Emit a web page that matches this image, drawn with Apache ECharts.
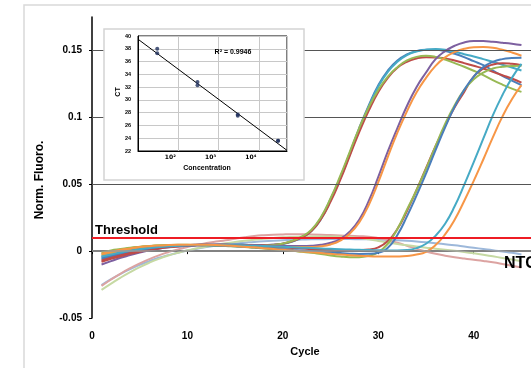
<!DOCTYPE html>
<html>
<head>
<meta charset="utf-8">
<script src="https://cdn.jsdelivr.net/npm/echarts@6/dist/echarts.min.js"></script>
<style>
  html, body { margin: 0; padding: 0; background: #fff; }
  #main { width: 531px; height: 368px; }
</style>
</head>
<body>
<div id="main"></div>
<script>
// cycles
var cycles = [1,2,3,4,5,6,7,8,9,10,11,12,13,14,15,16,17,18,19,20,21,22,23,24,25,26,27,28,29,30,31,32,33,34,35,36,37,38,39,40,41,42,43,44,45];

// amplification curves (Norm. Fluoro.)
var aBlue = [-0.006,-0.004,-0.002,-0.0005,0.001,0.002,0.003,0.0035,0.004,0.0045,0.0048,0.005,0.005,0.005,0.005,0.0048,0.0045,0.0045,0.0048,0.0055,0.0075,0.0105,0.0155,0.025,0.039,0.055,0.073,0.092,0.109,0.124,0.135,0.1425,0.147,0.1495,0.1505,0.1505,0.1495,0.1475,0.145,0.142,0.139,0.135,0.131,0.1275,0.124];
var aCyan = [-0.004,-0.0025,-0.001,0.0005,0.0015,0.0025,0.003,0.0035,0.004,0.0042,0.0045,0.0046,0.0046,0.0045,0.0044,0.0043,0.0042,0.0043,0.0046,0.0053,0.0072,0.0102,0.015,0.024,0.038,0.054,0.072,0.091,0.108,0.123,0.134,0.1415,0.1465,0.1492,0.1505,0.151,0.1505,0.149,0.1472,0.1455,0.1435,0.1415,0.1393,0.1372,0.135];
var aRed = [-0.007,-0.005,-0.003,-0.001,0.0005,0.0018,0.0028,0.0035,0.004,0.0044,0.0047,0.0048,0.0048,0.0047,0.0046,0.0045,0.0044,0.0045,0.0048,0.0056,0.0074,0.0103,0.015,0.024,0.037,0.053,0.071,0.089,0.105,0.119,0.1295,0.137,0.1415,0.144,0.145,0.1448,0.144,0.1425,0.1405,0.1385,0.1365,0.134,0.1315,0.129,0.126];
var aGreen = [-0.001,0.0005,0.0015,0.0025,0.0032,0.0038,0.0042,0.0045,0.0046,0.0046,0.0045,0.0044,0.0042,0.004,0.0038,0.0037,0.0037,0.004,0.0046,0.0057,0.0077,0.011,0.016,0.0255,0.0395,0.056,0.074,0.092,0.1075,0.1205,0.1305,0.1375,0.1425,0.1452,0.146,0.1452,0.1432,0.1405,0.1378,0.1348,0.1315,0.1278,0.1245,0.1215,0.119];
var bPurple = [-0.010,-0.0075,-0.005,-0.003,-0.001,0.0005,0.0018,0.0028,0.0035,0.004,0.0044,0.0046,0.0047,0.0047,0.0046,0.0045,0.0043,0.0041,0.004,0.0039,0.0038,0.0038,0.004,0.0047,0.0062,0.009,0.0145,0.0235,0.0375,0.0555,0.0745,0.092,0.1085,0.1225,0.1335,0.1435,0.1495,0.1535,0.156,0.157,0.157,0.1565,0.1558,0.155,0.154];
var bOrange = [-0.003,-0.0015,0,0.0012,0.0022,0.003,0.0036,0.004,0.0043,0.0045,0.0046,0.0046,0.0045,0.0044,0.0042,0.004,0.0038,0.0035,0.0033,0.0031,0.003,0.003,0.0031,0.0036,0.005,0.0078,0.013,0.0215,0.0345,0.0515,0.0705,0.0885,0.1045,0.1185,0.1295,0.1385,0.1448,0.1488,0.1512,0.1523,0.1525,0.152,0.1505,0.1485,0.146];
var cRed = [-0.008,-0.0058,-0.0038,-0.002,-0.0005,0.0008,0.0019,0.0028,0.0035,0.004,0.0043,0.0045,0.0045,0.0044,0.0043,0.0041,0.0038,0.0035,0.0031,0.0027,0.0023,0.0019,0.0015,0.0012,0.001,0.0008,0.0007,0.0008,0.0012,0.0028,0.0075,0.0165,0.03,0.0455,0.062,0.0785,0.0935,0.1075,0.119,0.1305,0.1365,0.1395,0.1405,0.14,0.139];
var cGreen = [-0.002,-0.0005,0.001,0.002,0.003,0.0037,0.0042,0.0045,0.0047,0.0047,0.0046,0.0044,0.0041,0.0038,0.0034,0.003,0.0025,0.002,0.0014,0.0008,0.0002,-0.0005,-0.0012,-0.0022,-0.0032,-0.004,-0.0045,-0.0045,-0.0035,-0.0008,0.0055,0.0165,0.031,0.0455,0.0615,0.0785,0.095,0.109,0.1205,0.1285,0.1335,0.1365,0.1378,0.1384,0.1385];
var cBlue = [-0.005,-0.0032,-0.0015,0,0.0012,0.0022,0.003,0.0036,0.004,0.0042,0.0043,0.0043,0.0042,0.004,0.0037,0.0033,0.0029,0.0024,0.0019,0.0014,0.0009,0.0004,0,-0.0005,-0.001,-0.0015,-0.0019,-0.0021,-0.002,-0.0012,0.0025,0.012,0.026,0.0415,0.058,0.0755,0.0925,0.108,0.1205,0.1305,0.1375,0.1415,0.1435,0.1443,0.1446];
var dCyan = [-0.004,-0.0025,-0.001,0.0003,0.0014,0.0023,0.003,0.0036,0.004,0.0043,0.0045,0.0046,0.0046,0.0045,0.0044,0.0042,0.004,0.0038,0.0035,0.0032,0.0029,0.0026,0.0023,0.002,0.0017,0.0014,0.0012,0.001,0.0008,0.0006,0.0005,0.0005,0.0008,0.0022,0.0055,0.0115,0.0205,0.0335,0.0495,0.0665,0.084,0.1015,0.1165,0.1295,0.14];
var dOrange = [-0.002,-0.0005,0.001,0.002,0.003,0.0037,0.0042,0.0045,0.0047,0.0048,0.0048,0.0047,0.0045,0.0042,0.0038,0.0033,0.0028,0.0022,0.0016,0.001,0.0004,-0.0002,-0.0008,-0.0014,-0.002,-0.0026,-0.0031,-0.0035,-0.0038,-0.004,-0.0041,-0.004,-0.0036,-0.0026,-0.0005,0.0045,0.0125,0.0235,0.0375,0.0525,0.0685,0.085,0.1005,0.1135,0.124];
// NTC
var ntcBlue = [-0.0254,-0.021,-0.017,-0.0135,-0.0103,-0.0075,-0.005,-0.003,-0.0012,0.0004,0.0018,0.003,0.004,0.0049,0.0057,0.0063,0.0069,0.0074,0.0078,0.0081,0.0084,0.0086,0.0088,0.0089,0.009,0.009,0.009,0.0089,0.0088,0.0086,0.0084,0.0081,0.0077,0.0072,0.0066,0.0059,0.0051,0.0043,0.0034,0.0025,0.0016,0.0007,-0.0003,-0.0013,-0.0025];
var ntcPink = [-0.026,-0.0212,-0.0168,-0.0128,-0.0092,-0.006,-0.0032,-0.0008,0.0013,0.0031,0.0047,0.006,0.0071,0.0081,0.0093,0.0104,0.0113,0.0119,0.0123,0.0125,0.0126,0.0126,0.0125,0.0123,0.012,0.0117,0.0114,0.0111,0.0108,0.0098,0.0082,0.0062,0.004,0.0017,-0.0003,-0.002,-0.0034,-0.0046,-0.0056,-0.0065,-0.0074,-0.0084,-0.0096,-0.0109,-0.0122];
var ntcGreen = [-0.029,-0.0243,-0.0198,-0.0157,-0.012,-0.0087,-0.0058,-0.0033,-0.0012,0.0006,0.0021,0.0035,0.0047,0.0058,0.0068,0.0077,0.0085,0.0092,0.0098,0.0103,0.0106,0.0108,0.0109,0.011,0.011,0.0108,0.0105,0.0098,0.0088,0.0076,0.0064,0.0053,0.0043,0.0034,0.0026,0.0018,0.0011,0.0003,-0.0006,-0.0016,-0.0027,-0.0039,-0.0051,-0.0063,-0.0075];

var threshold = 0.0087;
var gridValues = [0.05, 0.1, 0.15];

// standard curve (inset)
var conc = [30, 30, 300, 300, 3000, 3000, 30000, 30000];
var ct = [38.0, 37.3, 32.8, 32.3, 27.7, 27.5, 23.6, 23.6];
var trendConc = [10, 50000];
var trendCt = [39.5, 22.1];
var concLabels = {2: '10²', 3: '10³', 4: '10⁴'};

var myChart = echarts.init(document.getElementById('main'));

function curve(name, vals, color) {
    return {
        name: name,
        type: 'line',
        xAxisIndex: 0,
        yAxisIndex: 0,
        smooth: true,
        showSymbol: false,
        animation: false,
        lineStyle: { width: 2, color: color },
        data: cycles.map(function (c, i) { return [c, vals[i]]; })
    };
}

var boldFont = 'Liberation Sans';

var option = {
    animation: false,
    backgroundColor: '#fff',
    grid: [
        { left: 92, top: 17, width: 447, height: 301 },
        { left: 138, top: 36, width: 149, height: 115, show: true, backgroundColor: '#fff',
          borderColor: '#000', borderWidth: 1, z: 12 }
    ],
    xAxis: [
        {
            type: 'value', gridIndex: 0, min: 0, max: 46, interval: 10,
            axisLine: { lineStyle: { color: '#000', width: 1.5 } },
            axisTick: { length: 3, lineStyle: { color: '#000' } },
            splitLine: { show: false },
            axisLabel: { margin: 13, color: '#000', fontSize: 10, fontWeight: 'bold', fontFamily: boldFont, showMaxLabel: false }
        },
        {
            type: 'log', gridIndex: 1, min: 10, max: 50000, logBase: 10, z: 12,
            axisLine: { lineStyle: { color: '#000', width: 1 } },
            axisTick: { show: false },
            splitLine: { show: true, lineStyle: { color: '#c8c8c8', width: 1 } },
            axisLabel: {
                margin: 3, color: '#000', fontSize: 6, fontWeight: 'bold', fontFamily: 'DejaVu Sans',
                padding: [0, 16, 0, 0],
                formatter: function (v) {
                    var e = Math.log10(v);
                    var r = Math.round(e);
                    if (Math.abs(e - r) > 1e-6) return '';
                    return concLabels[r] || '';
                }
            }
        }
    ],
    yAxis: [
        {
            type: 'value', gridIndex: 0, min: -0.05, max: 0.175, interval: 0.05,
            axisLine: { show: true, lineStyle: { color: '#000', width: 1.5 } },
            axisTick: { show: true, length: 3, lineStyle: { color: '#000' } },
            splitLine: { show: false },
            axisLabel: { margin: 10, color: '#000', fontSize: 10, fontWeight: 'bold', fontFamily: boldFont, showMaxLabel: false }
        },
        {
            type: 'value', gridIndex: 1, min: 22, max: 40, interval: 2, z: 12,
            axisLine: { show: true, lineStyle: { color: '#000', width: 1 } },
            axisTick: { show: false },
            splitLine: { show: true, lineStyle: { color: '#c8c8c8', width: 1 } },
            axisLabel: { margin: 7, color: '#000', fontSize: 5.5, fontWeight: 'bold', fontFamily: boldFont }
        }
    ],
    series: [
        {
            // gridlines of the main plot
            type: 'line', xAxisIndex: 0, yAxisIndex: 0, z: 1, data: [], silent: true,
            markLine: {
                silent: true, symbol: 'none', animation: false, label: { show: false },
                lineStyle: { type: 'solid', color: '#555', width: 1 },
                data: gridValues.map(function (v) { return { yAxis: v }; })
                    .concat([{ yAxis: 0, lineStyle: { color: '#9a9a9a', width: 1.5 } }])
            }
        },
        curve('NTC 1', ntcBlue, '#9db8da'),
        curve('NTC 2', ntcPink, '#dca3a1'),
        curve('NTC 3', ntcGreen, '#c6d9a3'),
        curve('S1', aBlue, '#4a7ebb'),
        curve('S2', aCyan, '#46aac5'),
        curve('S3', aRed, '#be4b48'),
        curve('S4', aGreen, '#98b954'),
        curve('S5', bPurple, '#7d60a0'),
        curve('S6', bOrange, '#f79646'),
        curve('S7', cRed, '#be4b48'),
        curve('S8', cGreen, '#98b954'),
        curve('S9', cBlue, '#4a7ebb'),
        curve('S10', dCyan, '#46aac5'),
        curve('S11', dOrange, '#f79646'),
        {
            name: 'Threshold', type: 'line', xAxisIndex: 0, yAxisIndex: 0, z: 5, data: [], silent: true,
            markLine: {
                silent: true, symbol: 'none', animation: false, label: { show: false },
                lineStyle: { type: 'solid', color: '#ee1c24', width: 2 },
                data: [{ yAxis: threshold }]
            }
        },
        {
            name: 'Trend', type: 'line', xAxisIndex: 1, yAxisIndex: 1, z: 13,
            showSymbol: false, animation: false,
            lineStyle: { color: '#000', width: 1 },
            data: trendConc.map(function (c, i) { return [c, trendCt[i]]; })
        },
        {
            name: 'CT', type: 'scatter', xAxisIndex: 1, yAxisIndex: 1, z: 14,
            symbol: 'circle', symbolSize: 4, animation: false,
            itemStyle: { color: '#1f2f5c' },
            data: conc.map(function (c, i) { return [c, ct[i]]; })
        }
    ],
    graphic: [
        { type: 'rect', z: 0, silent: true, shape: { x: 24, y: 5, width: 700, height: 600 },
          style: { fill: 'none', stroke: '#d9d9d9', lineWidth: 1.5 } },
        { type: 'rect', z: 10, silent: true, shape: { x: 104, y: 29, width: 200, height: 151 },
          style: { fill: '#fff', stroke: '#d4d4d4', lineWidth: 1.5 } },
        { type: 'text', z: 20, silent: true, x: 40, y: 180, rotation: Math.PI / 2,
          style: { text: 'Norm. Fluoro.', font: 'bold 12px Liberation Sans', fill: '#000', align: 'center', verticalAlign: 'middle' } },
        { type: 'text', z: 20, silent: true, x: 305, y: 352,
          style: { text: 'Cycle', font: 'bold 11px Liberation Sans', fill: '#000', align: 'center', verticalAlign: 'middle' } },
        { type: 'text', z: 20, silent: true, x: 95, y: 230,
          style: { text: 'Threshold', font: 'bold 13px Liberation Sans', fill: '#000', align: 'left', verticalAlign: 'middle' } },
        { type: 'text', z: 20, silent: true, x: 504, y: 264,
          style: { text: 'NTC', font: 'bold 16px Liberation Sans', fill: '#000', align: 'left', verticalAlign: 'middle' } },
        { type: 'text', z: 20, silent: true, x: 233, y: 52,
          style: { text: 'R² = 0.9946', font: 'bold 7px Liberation Sans', fill: '#000', align: 'center', verticalAlign: 'middle' } },
        { type: 'text', z: 20, silent: true, x: 118, y: 92, rotation: Math.PI / 2,
          style: { text: 'CT', font: 'bold 7px Liberation Sans', fill: '#000', align: 'center', verticalAlign: 'middle' } },
        { type: 'text', z: 20, silent: true, x: 207, y: 168,
          style: { text: 'Concentration', font: 'bold 7px Liberation Sans', fill: '#000', align: 'center', verticalAlign: 'middle' } }
    ]
};

myChart.setOption(option);
</script>
</body>
</html>
